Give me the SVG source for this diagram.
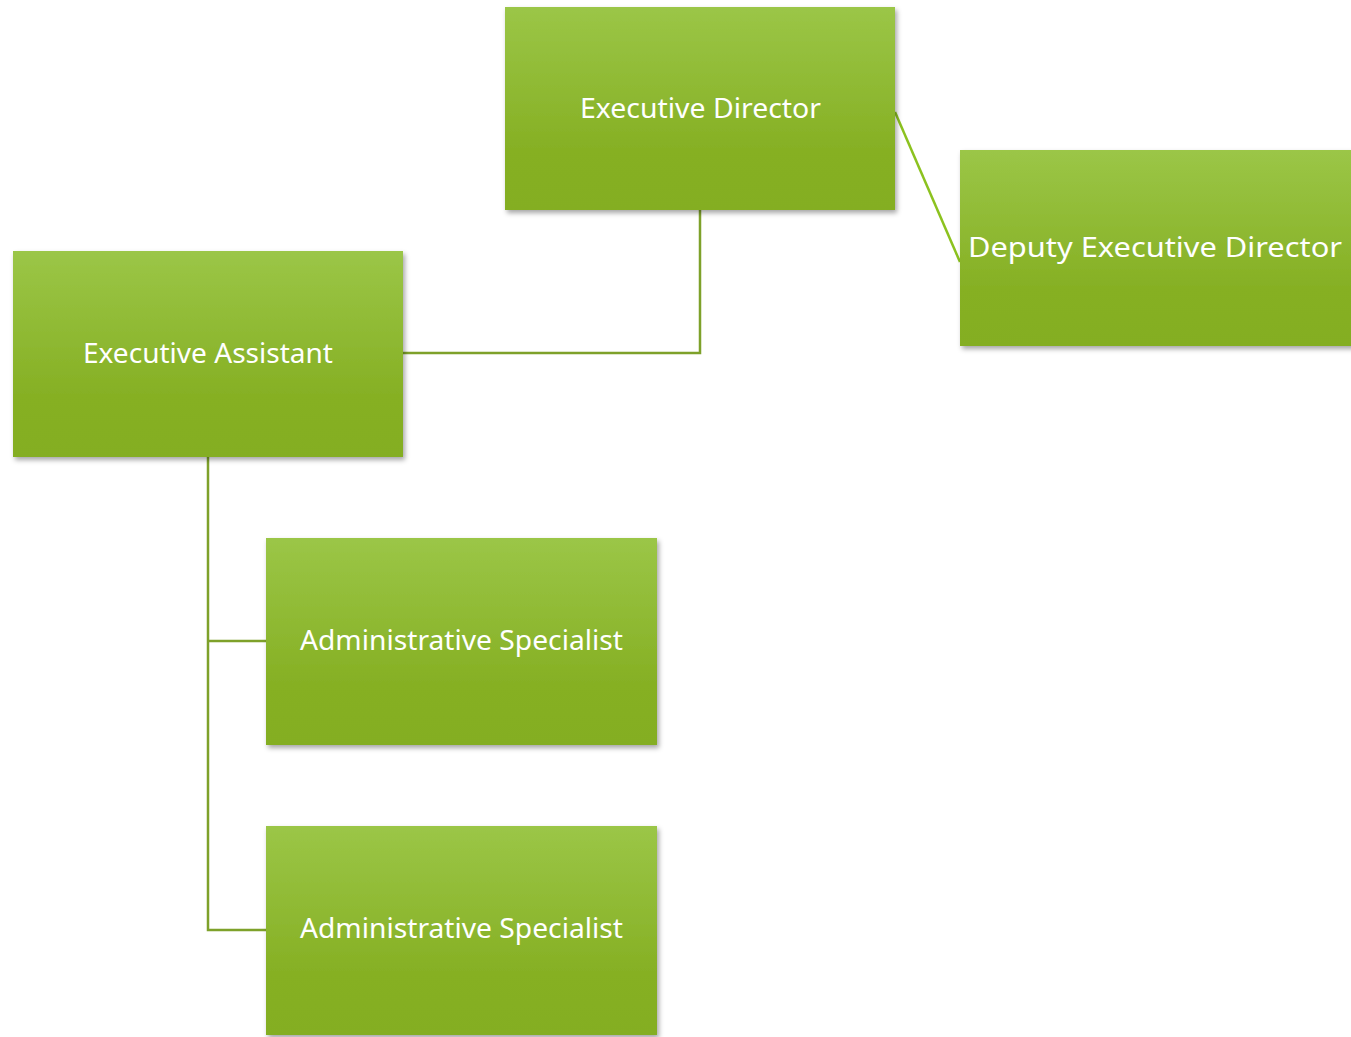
<svg xmlns="http://www.w3.org/2000/svg" width="1351" height="1037" viewBox="0 0 1351 1037">
<style>
.box{fill:url(#g);filter:url(#sh)}
.lbl{font-family:"Noto Sans","DejaVu Sans",sans-serif;font-size:28px;fill:#ffffff;text-anchor:middle}
.ln{fill:none;stroke:#7ea12a;stroke-width:2.5}
</style>
<defs>
<linearGradient id="g" x1="0" y1="0" x2="0" y2="1">
<stop offset="0" stop-color="#9bc647"/>
<stop offset="0.7" stop-color="#86b024"/>
<stop offset="1" stop-color="#84ae22"/>
</linearGradient>
<filter id="sh" x="-5%" y="-5%" width="115%" height="120%">
<feDropShadow dx="2" dy="3" stdDeviation="2.5" flood-color="#000" flood-opacity="0.35"/>
</filter>
</defs>
<rect width="1351" height="1037" fill="#ffffff"/>
<g id="connectors">
<path class="ln" d="M700,210 V353 H403"/>
<path class="ln" d="M208,457 V930 H266 M208,641 H266"/>
<path d="M895,112 L960,262" fill="none" stroke="#8cc21f" stroke-width="2.5"/>
</g>
<g id="executive-director">
<rect class="box" x="505" y="7" width="390" height="203"/>
<text class="lbl" x="700.5" y="118" textLength="241" lengthAdjust="spacingAndGlyphs">Executive Director</text>
</g>
<g id="deputy-executive-director">
<rect class="box" x="960" y="150" width="395" height="196"/>
<text class="lbl" x="1155" y="257" textLength="374" lengthAdjust="spacingAndGlyphs">Deputy Executive Director</text>
</g>
<g id="executive-assistant">
<rect class="box" x="13" y="251" width="390" height="206"/>
<text class="lbl" x="208" y="363" textLength="250" lengthAdjust="spacingAndGlyphs">Executive Assistant</text>
</g>
<g id="administrative-specialist-1">
<rect class="box" x="266" y="538" width="391" height="207"/>
<text class="lbl" x="461.5" y="650" textLength="323" lengthAdjust="spacingAndGlyphs">Administrative Specialist</text>
</g>
<g id="administrative-specialist-2">
<rect class="box" x="266" y="826" width="391" height="209"/>
<text class="lbl" x="461.5" y="938" textLength="323" lengthAdjust="spacingAndGlyphs">Administrative Specialist</text>
</g>
</svg>
